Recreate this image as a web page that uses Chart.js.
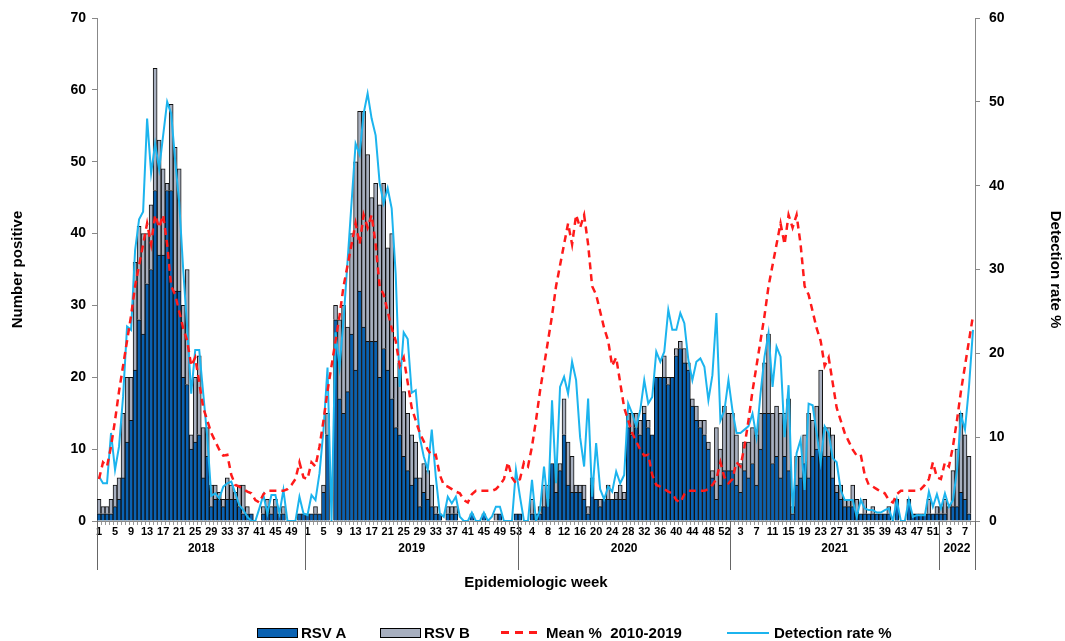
<!DOCTYPE html>
<html>
<head>
<meta charset="utf-8">
<script src="https://cdn.jsdelivr.net/npm/chart.js@4.4.0/dist/chart.umd.min.js"></script>
<style>
  body { margin: 0; background: #fff; }
  #wrap { position: relative; width: 1065px; height: 641px; }
  #legend { position: absolute; left: 0; top: 624px; width: 1065px; height: 17px;
            font: bold 15px 'Liberation Sans', Arial, sans-serif; color: #000; }
  .item { position: absolute; top: 0; height: 17px; line-height: 17px; display: flex; align-items: center; white-space: pre; }
  .box { width: 39px; height: 8px; border: 1px solid #000; margin-right: 3px; }
  .dash { width: 40px; height: 3px; margin-right: 5px;
          background: repeating-linear-gradient(to right, #ff1a1a 0 8px, transparent 8px 14px); }
  .solid { width: 42px; height: 2px; margin-right: 5px; background: #1cb4ee; }
</style>
</head>
<body>
<div id="wrap">
  <canvas id="chart1" width="1065" height="641"></canvas>
  <div id="legend">
    <div class="item" style="left:257px"><span class="box" style="background:#0a62b2"></span>RSV A</div>
    <div class="item" style="left:380px"><span class="box" style="background:#a7afbf"></span>RSV B</div>
    <div class="item" style="left:501px"><span class="dash"></span>Mean %  2010-2019</div>
    <div class="item" style="left:727px"><span class="solid"></span>Detection rate %</div>
  </div>
</div>
<script>
// years and how many epidemiologic weeks each one has on the axis
var years = [2018, 2019, 2020, 2021, 2022];
var weeksPerYear = [52, 53, 53, 52, 9];

// RSV A / RSV B counts per week
var a2018 = [1,1,1,1,2,3,6,11,14,21,28,26,33,35,46,37,37,46,46,32,32,20,19,10,11,12,6,9,2,3,3,2,3,3,3,2,1,1,1,0,0,1,2,1,2,1,1,0,0,0,1,1];
var b2018 = [2,1,1,2,3,3,9,9,6,15,13,14,7,9,17,16,12,1,12,20,17,10,16,2,9,11,7,4,3,2,1,1,3,2,1,3,4,1,0,0,0,1,1,1,1,0,1,0,0,0,0,0];
var a2019 = [1,1,1,1,4,12,0,28,17,15,18,26,21,32,27,25,25,25,20,24,21,17,13,12,9,7,5,6,2,4,3,2,1,1,0,1,1,1,0,0,0,1,0,0,1,0,0,0,1,0,0,0,1];
var b2019 = [0,0,1,0,1,3,0,2,11,15,9,14,29,25,30,26,20,22,24,23,17,23,7,10,9,8,7,5,4,4,4,3,1,0,0,1,1,1,0,0,0,0,0,0,0,0,0,1,0,0,0,0,0];
var a2020 = [1,0,0,1,1,1,2,3,8,4,7,12,5,4,4,4,3,1,5,3,2,3,3,3,3,3,3,13,12,13,12,15,13,12,20,20,20,19,20,23,24,22,21,16,14,13,12,10,6,3,5,7,7];
var b2020 = [0,0,0,2,0,1,3,2,0,4,1,5,6,5,1,1,2,1,1,0,1,0,2,0,1,2,1,2,3,2,2,1,1,0,0,0,3,1,0,1,1,2,1,1,2,1,2,1,1,10,5,9,8];
var a2021 = [7,5,4,7,6,8,5,10,15,15,8,9,6,9,7,1,5,6,8,6,9,10,9,9,9,6,4,3,2,2,2,1,1,1,1,1,1,1,1,1,0,3,0,0,3,1,1,1,1,1,1,1];
var b2021 = [8,7,4,4,5,5,7,5,7,11,7,7,9,6,10,1,4,3,4,9,5,6,12,4,4,6,1,2,1,1,3,2,0,2,0,1,0,0,0,1,0,0,0,0,0,0,0,0,0,2,0,1];
var a2022 = [1,1,0,2,2,4,3,1,null];
var b2022 = [1,2,2,5,8,11,9,8,null];

// detection rate %
var det2018 = [5.3,4.5,4.5,10.5,6.1,8.9,14.8,23.2,22.8,32.3,36,36.9,48,41.5,45,42,46,50,48.6,43,38,30,23,15.2,20.4,20.4,15.2,10,3,3.3,2.7,4.1,4.5,4.7,3.3,1.9,1.3,0.5,0,0,1.5,3.1,0.9,3.1,3.1,0.9,3.7,0,0,0,2.9,0.9];
var det2019 = [0.7,3.1,2.5,5.7,10.9,18.3,0,22.5,18.4,24,31,38,45,43.7,48.6,51,48,46,40.3,37.9,39.7,37.3,29.5,16,22.5,21.7,15.3,15.6,10,7.7,6.1,10.9,5.3,0.9,0.5,2.9,2.1,2.9,0.5,0,0,1,0,0,1,0,0.5,1.7,1.7,0,0,0,6.1];
var det2020 = [2.9,0,0,4.9,0,1.3,6.5,1.7,14.4,4.5,16,17.2,15.2,19,16.8,10,6.5,14.6,2.9,9.3,3.8,2.6,4.1,3.5,5.9,4.5,5.5,14,12.8,11.3,13.2,16.8,14,14.8,20.2,19,20.2,25.2,22.8,22.8,24.8,23.6,19.2,16.8,19,19.4,18.4,14.4,17.4,24.8,12,13.2,16.8];
var det2021 = [13.2,10.5,10.5,10.9,11.3,12.8,10,15.2,19.6,22.4,16,20.8,19.6,10,16.2,0.9,8.1,9.7,3.7,14,13.8,10.5,7,11.3,10.5,7.5,7,3.7,2.5,2.5,2.5,0.5,2.5,1.5,1.3,1.3,1,1,1.3,1.5,0,2.5,0,0,2.5,0.5,0.7,0.7,0.7,3.5,1.7,3.2];
var det2022 = [1.5,3.3,1.7,2.5,6,12.6,10.9,16,22.8];

// mean % 2010-2019 by week of year (same curve every season)
var meanByWeek = [5,7,6.5,8.9,12,15.5,18.5,21.5,24.5,28,30.5,33,35.5,33,36.5,35,36.5,33,28,27,25,23,21.5,18.5,19.5,16.5,13.5,12,10.5,9.5,8.5,7.8,7.9,5.5,4.3,4.1,3.8,3.5,3.3,2.5,2.2,3.2,3.6,3.6,3.6,3.6,3.6,3.8,4.3,5,7,5.2,4.5];

var leftTicks = [0, 10, 20, 30, 40, 50, 60, 70];
var rightTicks = [0, 10, 20, 30, 40, 50, 60];

var weekLabels = [];
for (var y = 0; y < weeksPerYear.length; y++) {
    for (var w = 1; w <= weeksPerYear[y]; w++) {
        weekLabels.push(String(w));
    }
}
var rsvA = a2018.concat(a2019, a2020, a2021, a2022);
var rsvB = b2018.concat(b2019, b2020, b2021, b2022);
var detRate = det2018.concat(det2019, det2020, det2021, det2022);
var meanPct = [];
for (var y = 0; y < weeksPerYear.length; y++) {
    meanPct = meanPct.concat(meanByWeek.slice(0, weeksPerYear[y]));
}

var fontMain = "'Liberation Sans', Arial, sans-serif";
var fontNarrow = "'Liberation Sans Narrow', 'Arial Narrow', 'Liberation Sans', Arial, sans-serif";

// year labels under the week numbers, with separator lines
const yearPlugin = {
    id: 'yearBands',
    afterDraw: function (chart) {
        var xs = chart.scales.x;
        var ctx = chart.ctx;
        var half = (xs.getPixelForValue(1) - xs.getPixelForValue(0)) / 2;
        var top = chart.chartArea.bottom;
        var start = 0;
        ctx.save();
        ctx.strokeStyle = '#666';
        ctx.lineWidth = 1;
        ctx.fillStyle = '#000';
        ctx.font = 'bold 12px ' + fontMain;
        ctx.textAlign = 'center';
        ctx.textBaseline = 'middle';
        for (var i = 0; i < years.length; i++) {
            var x0 = xs.getPixelForValue(start) - half;
            var x1 = xs.getPixelForValue(start + weeksPerYear[i] - 1) + half;
            ctx.beginPath();
            ctx.moveTo(Math.round(x0) + 0.5, top);
            ctx.lineTo(Math.round(x0) + 0.5, top + 49);
            ctx.stroke();
            if (i == years.length - 1) {
                ctx.beginPath();
                ctx.moveTo(Math.round(x1) + 0.5, top);
                ctx.lineTo(Math.round(x1) + 0.5, top + 49);
                ctx.stroke();
            }
            ctx.fillText(String(years[i]), (x0 + x1) / 2, top + 28);
            start += weeksPerYear[i];
        }
        ctx.restore();
    }
};

const dat = {
    labels: weekLabels,
    datasets: [
        {
            type: 'line',
            label: 'Mean %  2010-2019',
            data: meanPct,
            yAxisID: 'y1',
            borderColor: '#ff1a1a',
            borderWidth: 2.5,
            borderDash: [7, 5],
            pointRadius: 0,
            tension: 0,
            order: 0
        },
        {
            type: 'line',
            label: 'Detection rate %',
            data: detRate,
            yAxisID: 'y1',
            borderColor: '#1cb4ee',
            borderWidth: 2,
            pointRadius: 0,
            tension: 0,
            order: 1
        },
        {
            type: 'bar',
            label: 'RSV A',
            data: rsvA,
            yAxisID: 'y',
            backgroundColor: '#0a62b2',
            borderColor: '#111',
            borderWidth: 1,
            barPercentage: 1,
            categoryPercentage: 1,
            order: 2
        },
        {
            type: 'bar',
            label: 'RSV B',
            data: rsvB,
            yAxisID: 'y',
            backgroundColor: '#a7afbf',
            borderColor: '#111',
            borderWidth: 1,
            barPercentage: 1,
            categoryPercentage: 1,
            order: 3
        }
    ]
};

const config = {
    type: 'bar',
    data: dat,
    plugins: [yearPlugin],
    options: {
        responsive: false,
        animation: false,
        layout: { padding: { top: 18, left: 0, right: 0, bottom: 0 } },
        plugins: {
            legend: { display: false },
            tooltip: { enabled: false }
        },
        scales: {
            x: {
                stacked: true,
                offset: true,
                grid: { display: true, drawOnChartArea: false, drawTicks: true, tickLength: 4, color: '#999', offset: true },
                border: { display: true, color: '#888' },
                ticks: {
                    autoSkip: false,
                    maxRotation: 0,
                    minRotation: 0,
                    padding: 0,
                    color: '#000',
                    font: { family: fontNarrow, size: 11, weight: 'bold' },
                    callback: function (v, i) { return i % 4 === 0 ? weekLabels[i] : ''; }
                },
                title: {
                    display: true,
                    text: 'Epidemiologic week',
                    color: '#000',
                    font: { family: fontMain, size: 15, weight: 'bold' },
                    padding: { top: 0, bottom: 49 }
                },
                afterFit: function (s) { s.height = 120; }
            },
            y: {
                position: 'left',
                stacked: true,
                min: 0,
                max: 70,
                afterBuildTicks: function (s) { s.ticks = leftTicks.map(function (v) { return { value: v }; }); },
                grid: { drawOnChartArea: false, tickLength: 5, color: '#888' },
                border: { display: true, color: '#888' },
                ticks: { padding: 6, color: '#000', font: { family: fontMain, size: 14, weight: 'bold' } },
                title: {
                    display: true,
                    text: 'Number positive',
                    color: '#000',
                    font: { family: fontMain, size: 15, weight: 'bold' },
                    padding: { top: 9, bottom: 0 }
                },
                afterFit: function (s) { s.width = 97; }
            },
            y1: {
                position: 'right',
                min: 0,
                max: 60,
                afterBuildTicks: function (s) { s.ticks = rightTicks.map(function (v) { return { value: v }; }); },
                grid: { drawOnChartArea: false, tickLength: 5, color: '#888' },
                border: { display: true, color: '#888' },
                ticks: { padding: 9, color: '#000', font: { family: fontMain, size: 14, weight: 'bold' } },
                title: {
                    display: true,
                    text: 'Detection rate %',
                    color: '#000',
                    font: { family: fontMain, size: 15, weight: 'bold' },
                    padding: { top: 1, bottom: 0 }
                },
                afterFit: function (s) { s.width = 90; }
            }
        }
    }
};

const myChart = new Chart(
    document.getElementById('chart1'),
    config
);
</script>
</body>
</html>
